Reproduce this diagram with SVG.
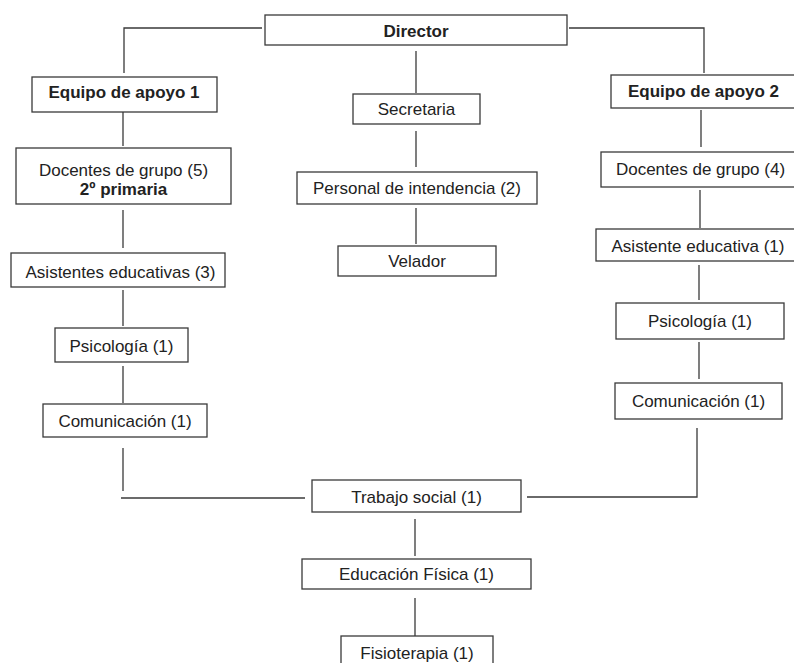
<svg xmlns="http://www.w3.org/2000/svg" width="794" height="663" viewBox="0 0 794 663">
<style>
.box{fill:#fff;stroke:#3a3a3a;stroke-width:1.3}
.t{font-family:"Liberation Sans",Arial,sans-serif;font-size:17px;fill:#222;text-anchor:middle}
.b{font-weight:bold}
.ln{fill:none;stroke:#3a3a3a;stroke-width:1.3}
</style>
<rect width="794" height="663" fill="#fff"/>
<g id="connectors">
<polyline class="ln" points="262,28 124,28 124,73"/>
<polyline class="ln" points="569,28 704,28 704,73"/>
<line class="ln" x1="416" y1="51" x2="416" y2="93"/>
<line class="ln" x1="416" y1="131" x2="416" y2="167"/>
<line class="ln" x1="416" y1="208" x2="416" y2="244"/>
<line class="ln" x1="123" y1="112" x2="123" y2="146"/>
<line class="ln" x1="123" y1="210" x2="123" y2="248"/>
<line class="ln" x1="123" y1="290" x2="123" y2="326"/>
<line class="ln" x1="123" y1="366" x2="123" y2="403"/>
<line class="ln" x1="123" y1="448" x2="123" y2="491"/>
<line class="ln" x1="121" y1="498" x2="305" y2="498"/>
<line class="ln" x1="701" y1="110" x2="701" y2="147"/>
<line class="ln" x1="700" y1="190" x2="700" y2="228"/>
<line class="ln" x1="699" y1="265" x2="699" y2="300"/>
<line class="ln" x1="699" y1="342" x2="699" y2="379"/>
<polyline class="ln" points="527,497 697,497 697,428"/>
<line class="ln" x1="415" y1="519" x2="415" y2="556"/>
<line class="ln" x1="415" y1="598" x2="415" y2="636"/>
</g>
<g id="director"><rect class="box" x="265" y="15" width="302" height="30"/><text class="t b" x="416" y="37">Director</text></g>
<g id="equipo1"><rect class="box" x="32" y="77" width="185" height="35"/><text class="t b" x="124" y="98">Equipo de apoyo 1</text></g>
<g id="docentes5"><rect class="box" x="16" y="148" width="215" height="56"/><text class="t" x="123.5" y="176">Docentes de grupo (5)</text><text class="t b" x="123.5" y="195">2º primaria</text></g>
<g id="asistentes3"><rect class="box" x="11" y="253" width="214" height="34"/><text class="t" x="120.5" y="278">Asistentes educativas (3)</text></g>
<g id="psicologia1"><rect class="box" x="55" y="328" width="133" height="34"/><text class="t" x="121.5" y="352">Psicología (1)</text></g>
<g id="comunicacion1"><rect class="box" x="43" y="404" width="164" height="33"/><text class="t" x="125" y="427">Comunicación (1)</text></g>
<g id="secretaria"><rect class="box" x="353" y="94" width="127" height="30"/><text class="t" x="416.5" y="115">Secretaria</text></g>
<g id="personal"><rect class="box" x="297" y="172" width="240" height="32"/><text class="t" x="417" y="194">Personal de intendencia (2)</text></g>
<g id="velador"><rect class="box" x="338" y="246" width="158" height="30"/><text class="t" x="417" y="267">Velador</text></g>
<g id="equipo2"><rect class="box" x="611" y="75" width="190" height="33"/><text class="t b" x="703.5" y="97">Equipo de apoyo 2</text></g>
<g id="docentes4"><rect class="box" x="601" y="152" width="200" height="35"/><text class="t" x="700.5" y="175">Docentes de grupo (4)</text></g>
<g id="asistente1"><rect class="box" x="596" y="229" width="205" height="32"/><text class="t" x="698" y="252">Asistente educativa (1)</text></g>
<g id="psicologia2"><rect class="box" x="616" y="303" width="168" height="36"/><text class="t" x="700" y="327">Psicología (1)</text></g>
<g id="comunicacion2"><rect class="box" x="615" y="383" width="167" height="36"/><text class="t" x="698.5" y="407">Comunicación (1)</text></g>
<g id="trabajo"><rect class="box" x="312" y="480" width="209" height="32"/><text class="t" x="416.5" y="503">Trabajo social (1)</text></g>
<g id="educacion"><rect class="box" x="302" y="559" width="229" height="30"/><text class="t" x="416.5" y="580">Educación Física (1)</text></g>
<g id="fisioterapia"><rect class="box" x="341" y="636" width="152" height="32"/><text class="t" x="417" y="659">Fisioterapia (1)</text></g>
</svg>
